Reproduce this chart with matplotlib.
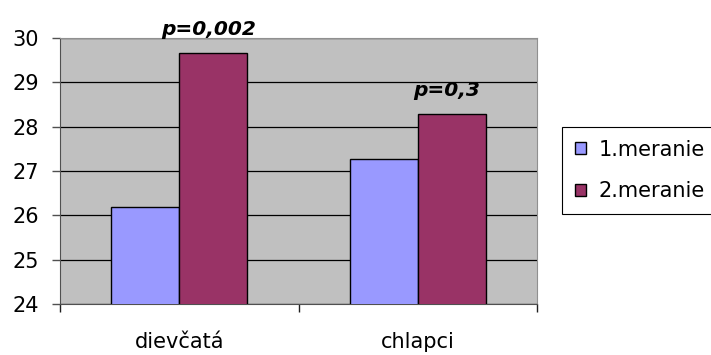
import numpy as np
import matplotlib
matplotlib.use("Agg")
import matplotlib.pyplot as plt

# data
categories = ["dievčatá", "chlapci"]
series_names = ["1.meranie", "2.meranie"]
meranie1 = [26.18, 27.28]
meranie2 = [29.66, 28.29]
p_labels = ["p=0,002", "p=0,3"]
y_ticks = [24, 25, 26, 27, 28, 29, 30]

colors = ["#9999FF", "#993366"]

fig = plt.figure(figsize=(7.11, 3.55), dpi=100)
fig.patch.set_facecolor("white")
ax = fig.add_axes([60 / 711, 1 - 304 / 355, 477 / 711, 266 / 355])
ax.set_facecolor("#C0C0C0")

x = np.arange(len(categories))
w = 1 / 3.5
ax.bar(x - w / 2, meranie1, w, color=colors[0], edgecolor="black",
       linewidth=1.0, label=series_names[0], zorder=3)
ax.bar(x + w / 2, meranie2, w, color=colors[1], edgecolor="black",
       linewidth=1.0, label=series_names[1], zorder=3)

# p-values above the second bar of each group
for xi, v, lab in zip(x, meranie2, p_labels):
    ax.text(xi + w / 2 - 0.02, v + 0.40, lab, ha="center", va="baseline",
            fontsize=14.5, fontweight="bold", fontstyle="italic",
            clip_on=False, zorder=5)

ax.set_ylim(24, 30)
ax.set_xlim(-0.5, 1.5)
ax.set_yticks(y_ticks)
ax.set_yticklabels([str(t) for t in y_ticks], fontsize=15)
ax.tick_params(axis="y", length=6, width=1, color="#505050", pad=9)

ax.set_xticks(x)
ax.set_xticklabels(categories, fontsize=15)
ax.tick_params(axis="x", which="major", length=0, pad=20)
ax.set_xticks([-0.5, 0.5, 1.5], minor=True)
ax.tick_params(axis="x", which="minor", length=6, width=1, color="#202020")

ax.yaxis.grid(True, color="black", linewidth=0.9)
ax.set_axisbelow(True)

for side in ["left", "bottom"]:
    ax.spines[side].set_color("#505050")
for side in ["top", "right"]:
    ax.spines[side].set_color("#909090")

leg = ax.legend(loc="upper left", bbox_to_anchor=(562 / 711, 1 - 127 / 355),
                bbox_transform=fig.transFigure, fontsize=15, frameon=True,
                fancybox=False, edgecolor="black", framealpha=1,
                handlelength=0.55, handleheight=0.55, handletextpad=0.6,
                labelspacing=1.05, borderpad=0.6, borderaxespad=0)
leg.get_frame().set_linewidth(0.8)

fig.savefig("out.png", dpi=100, facecolor="white")
